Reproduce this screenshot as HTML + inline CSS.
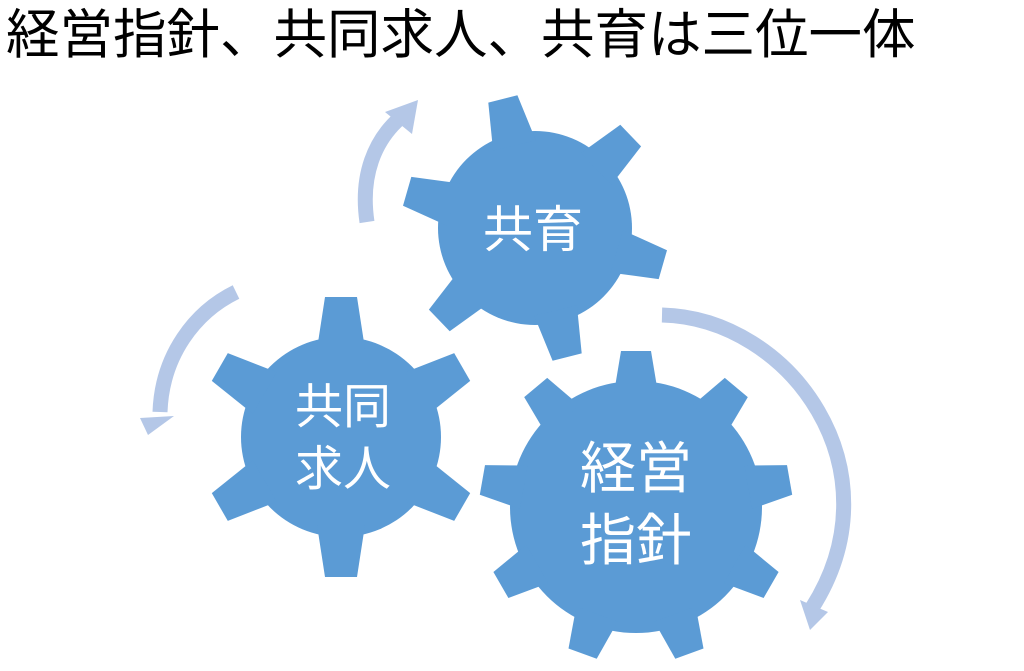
<!DOCTYPE html>
<html><head><meta charset="utf-8"><style>
html,body{margin:0;padding:0;background:#fff;width:1024px;height:671px;overflow:hidden}
svg{position:absolute;left:0;top:0}
.t{font-family:"Liberation Sans","Noto Sans CJK JP",sans-serif;fill:#fff}
</style></head><body>
<svg width="1024" height="671" id="s">
<text x="6" y="53" font-size="53.5" font-family="Liberation Sans, Noto Sans CJK JP, sans-serif" fill="#000">経営指針、共同求人、共育は三位一体</text>
<g fill="none" stroke="#b4c7e7" stroke-width="15">
<path d="M367,222 C360,175 375,140 400,118"/>
<path d="M236,292 C195,312 162,355 160,412"/>
<path d="M662,315 C790,318 900,470 812,608"/>
</g>
<g fill="#b4c7e7">
<polygon points="418,100 385,112 412,134"/>
<polygon points="148,435 140,418 174,416"/>
<polygon points="810,630 800,600 828,612"/>
</g>
<g id="gears" fill="#5b9bd5"></g>
<text class="t" x="533" y="247" font-size="50" text-anchor="middle">共育</text>
<text class="t" x="343" y="423" font-size="48" text-anchor="middle">共同</text>
<text class="t" x="343" y="485" font-size="48" text-anchor="middle">求人</text>
<text class="t" x="636" y="488" font-size="56" text-anchor="middle">経営</text>
<text class="t" x="636" y="560" font-size="56" text-anchor="middle">指針</text>
</svg>
<script>
function gear(cx,cy,r,R,n,a0,wb,wt){
  var g=document.getElementById('gears'),ns='http://www.w3.org/2000/svg';
  var c=document.createElementNS(ns,'circle');c.setAttribute('cx',cx);c.setAttribute('cy',cy);c.setAttribute('r',r);g.appendChild(c);
  for(var i=0;i<n;i++){
    var a=(a0+i*360/n)*Math.PI/180,ux=Math.cos(a),uy=-Math.sin(a),px=-uy,py=ux,rb=r-12;
    var p=[[cx+ux*rb+px*wb,cy+uy*rb+py*wb],[cx+ux*R+px*wt,cy+uy*R+py*wt],[cx+ux*R-px*wt,cy+uy*R-py*wt],[cx+ux*rb-px*wb,cy+uy*rb-py*wb]];
    var pg=document.createElementNS(ns,'polygon');pg.setAttribute('points',p.map(function(q){return q[0].toFixed(1)+','+q[1].toFixed(1)}).join(' '));g.appendChild(pg);
  }
}
gear(535,228,97,133,6,104,22,15);
gear(341,437,100,140,6,90,24,16);
gear(636,507,126,156,9,90,22,15);
</script>
</body></html>
